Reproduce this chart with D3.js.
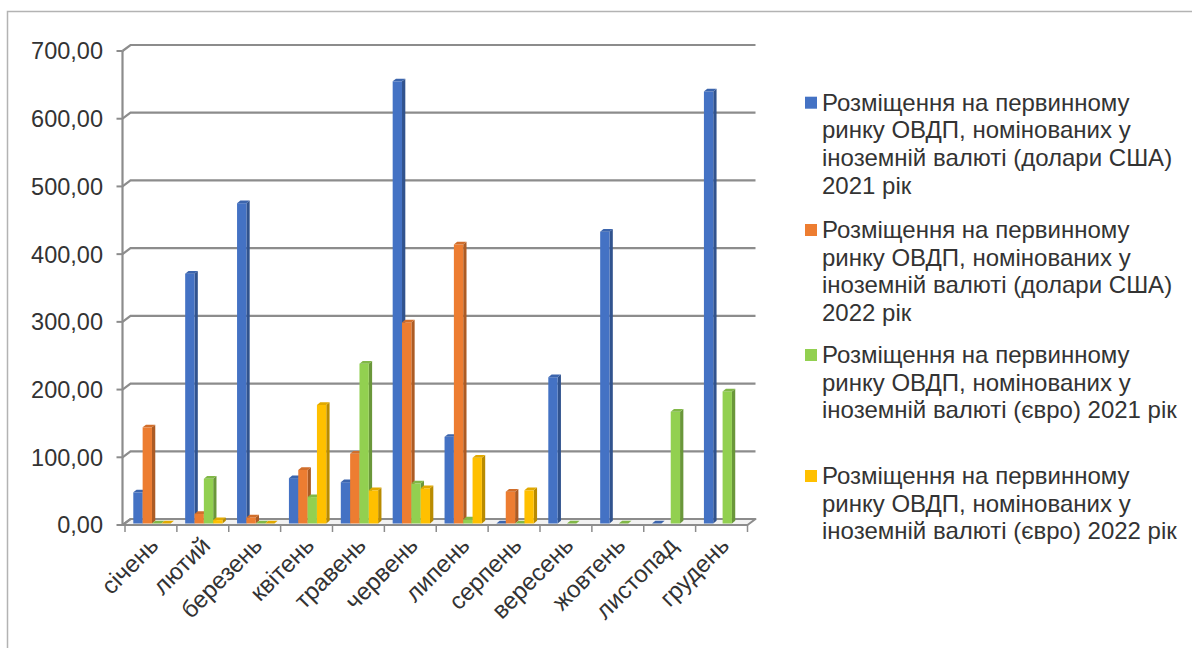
<!DOCTYPE html>
<html>
<head>
<meta charset="utf-8">
<script src="https://cdn.jsdelivr.net/npm/d3@7"></script>
<style>
  html, body { margin: 0; padding: 0; background: #fff; }
  svg { display: block; font-family: "Liberation Sans", Arial, sans-serif; }
</style>
</head>
<body>
<svg id="chart" width="1192" height="648"></svg>
<script>
// Months
const categories = ["січень", "лютий", "березень", "квітень", "травень", "червень",
  "липень", "серпень", "вересень", "жовтень", "листопад", "грудень"];

// Placement volumes per month (null = no placement recorded)
const usd2021 = [46, 369, 473, 67, 61, 653, 128, 0, 216, 431, 0, 638];
const usd2022 = [142, 14, 9, 79, 103, 297, 412, 47, null, null, null, null];
const eur2021 = [0, 66, 0, 39, 236, 59, 6, 0, 0, 0, 165, 195];
const eur2022 = [0, 5, 0, 175, 49, 52, 97, 49, null, null, null, null];

const yTicks = [0, 100, 200, 300, 400, 500, 600, 700];

const seriesNames = [
  ["Розміщення на первинному", "ринку ОВДП, номінованих у", "іноземній валюті (долари США)", "2021 рік"],
  ["Розміщення на первинному", "ринку ОВДП, номінованих у", "іноземній валюті (долари США)", "2022 рік"],
  ["Розміщення на первинному", "ринку ОВДП, номінованих у", "іноземній валюті (євро) 2021 рік"],
  ["Розміщення на первинному", "ринку ОВДП, номінованих у", "іноземній валюті (євро) 2022 рік"]
];
const seriesColors = ["#4472C4", "#ED7D31", "#92D050", "#FFC000"];
const seriesValues = [usd2021, usd2022, eur2021, eur2022];

const svg = d3.select("#chart");

// Outer frame (top and left edges)
svg.append("path")
  .attr("d", "M7.5,648 L7.5,11.5 L1192,11.5")
  .attr("fill", "none").attr("stroke", "#b3b3b3").attr("stroke-width", 1.5);

// Plot geometry: front edge scales plus a depth offset for the back wall
const axisX = 122.5;
const depth = { dx: 8, dy: -6 };
const x = d3.scaleBand().domain(categories).range([125, 747.5]).paddingInner(0).paddingOuter(0);
const y = d3.scaleLinear().domain([0, 700]).range([525, 51]);
const gridColor = "#8c8c8c";
const fmt = v => d3.format(".2f")(v).replace(".", ",");

const grid = svg.append("g");
// Floor
const fx0 = axisX, fx1 = x.range()[1], fy = y(0);
grid.append("path")
  .attr("d", `M${fx0},${fy} L${fx1},${fy} L${fx1 + depth.dx},${fy + depth.dy} L${fx0 + depth.dx},${fy + depth.dy} Z`)
  .attr("fill", "#f2f2f2").attr("stroke", gridColor).attr("stroke-width", 2).attr("stroke-linejoin", "round");

// Gridlines on the back wall, joined to the axis by the side-wall diagonals
yTicks.forEach(t => {
  const yy = y(t);
  grid.append("path")
    .attr("d", `M${axisX},${yy} L${axisX + depth.dx},${yy + depth.dy} L${fx1 + depth.dx},${yy + depth.dy}`)
    .attr("fill", "none").attr("stroke", gridColor).attr("stroke-width", 2.2);
  grid.append("line")
    .attr("x1", axisX - 6).attr("x2", axisX).attr("y1", yy).attr("y2", yy)
    .attr("stroke", gridColor).attr("stroke-width", 2);
  svg.append("text")
    .attr("x", 103).attr("y", yy)
    .attr("dy", "0.36em")
    .attr("text-anchor", "end")
    .attr("font-size", 23.5).attr("fill", "#333")
    .text(fmt(t));
});

// Vertical axis line
grid.append("line")
  .attr("x1", axisX).attr("x2", axisX).attr("y1", y(700)).attr("y2", y(0))
  .attr("stroke", gridColor).attr("stroke-width", 2.2);

// Category tick marks below the floor
d3.range(categories.length + 1).forEach(i => {
  const tx = x.range()[0] + i * x.step();
  grid.append("line")
    .attr("x1", tx).attr("x2", tx).attr("y1", fy).attr("y2", fy + 7)
    .attr("stroke", gridColor).attr("stroke-width", 1.5);
});

// 3D columns
const barW = x.bandwidth() * 0.18;
const barOffset = x.bandwidth() * 0.16;
const base = y(0) - 1.5;
const bd = { dx: 3.3, dy: -2.7 };
const bars = svg.append("g");

categories.forEach((cat, ci) => {
  seriesValues.forEach((vals, si) => {
    const v = vals[ci];
    if (v === null || v === undefined) return;
    const col = d3.color(seriesColors[si]);
    const x0 = x(cat) + barOffset + si * barW;
    const x1 = x0 + barW;
    const yTop = y(v) - 1.5;
    const g = bars.append("g");
    // side face
    g.append("path")
      .attr("d", `M${x1},${yTop} L${x1 + bd.dx},${yTop + bd.dy} L${x1 + bd.dx},${base + bd.dy} L${x1},${base} Z`)
      .attr("fill", col.darker(0.9));
    // front face
    g.append("rect")
      .attr("x", x0).attr("y", yTop)
      .attr("width", barW).attr("height", Math.max(0, base - yTop))
      .attr("fill", col);
    // top face
    g.append("path")
      .attr("d", `M${x0},${yTop} L${x0 + bd.dx},${yTop + bd.dy} L${x1 + bd.dx},${yTop + bd.dy} L${x1},${yTop} Z`)
      .attr("fill", col.darker(0.35));
  });
});

// Rotated month labels
categories.forEach(cat => {
  const cx = x(cat) + x.bandwidth() / 2;
  svg.append("text")
    .attr("transform", `translate(${cx + 9},${547}) rotate(-45)`)
    .attr("text-anchor", "end")
    .attr("font-size", 24).attr("fill", "#333")
    .text(cat);
});

// Legend
const legendTop = [110.7, 238, 363, 484];
const lineH = 27.6;
const legend = svg.append("g");
seriesNames.forEach((lines, si) => {
  const by = legendTop[si];
  legend.append("rect")
    .attr("x", 805).attr("y", by - 14).attr("width", 12).attr("height", 12)
    .attr("fill", seriesColors[si]);
  const t = legend.append("text")
    .attr("x", 822).attr("y", by)
    .attr("font-size", 24).attr("fill", "#333");
  lines.forEach((ln, li) => {
    t.append("tspan").attr("x", 822).attr("y", by + li * lineH).text(ln);
  });
});
</script>
</body>
</html>
